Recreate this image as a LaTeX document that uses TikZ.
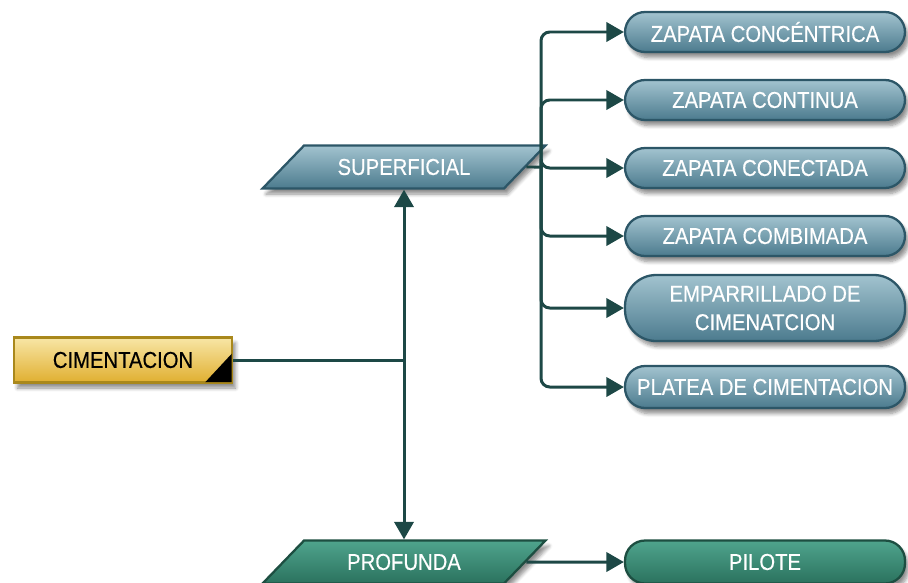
\documentclass[tikz,border=0pt]{standalone}
\usepackage{fontspec}
\setmainfont{Liberation Sans}[FakeStretch=0.88,FakeBold=0.4]
\usetikzlibrary{shapes.geometric,shadows.blur,arrows.meta}
\definecolor{linkline}{HTML}{1D4846}
\definecolor{blueTop}{HTML}{A2C3CF}
\definecolor{blueBot}{HTML}{4C7B8E}
\definecolor{blueEdge}{HTML}{2C5667}
\definecolor{greenTop}{HTML}{4FA48D}
\definecolor{greenBot}{HTML}{2B725E}
\definecolor{greenEdge}{HTML}{1D4E41}
\definecolor{goldTop}{HTML}{F8E6A6}
\definecolor{goldBot}{HTML}{E0AF30}
\definecolor{goldEdge}{HTML}{A9881C}
\begin{document}
\begin{tikzpicture}[x=0.02cm, y=-0.02cm,
  every node/.style={font=\fontsize{13.1}{16.2}\selectfont},
  shade/.style={blur shadow={shadow xshift=0.07cm, shadow yshift=-0.11cm, shadow blur steps=6, shadow opacity=45}},
  bluebox/.style={draw=blueEdge, line width=1.3pt, top color=blueTop, bottom color=blueBot, text=white, shade,
    rounded corners=0.4cm, minimum width=5.6cm, minimum height=0.8cm, inner xsep=0pt, align=center},
  slanted/.style={trapezium, trapezium left angle=34, trapezium right angle=146, trapezium stretches body,
    line width=1.3pt, text=white, shade, minimum width=5.66cm, minimum height=0.86cm, inner xsep=0pt},
  link/.style={draw=linkline, line width=1.7pt},
  arr/.style={link, -{Triangle[length=10pt,width=11pt]}}]
\useasboundingbox (0,0) rectangle (908,582);

% left start box
\node[draw=goldEdge, line width=1.4pt, top color=goldTop, bottom color=goldBot, shade,
  minimum width=4.36cm, minimum height=0.9cm, inner sep=0pt] (cim) at (123,360) {CIMENTACION};
\fill[black] ([shift={(-28,-1.5)}]cim.south east) -- ([shift={(-1.5,-1.5)}]cim.south east)
  -- ([shift={(-1.5,-30)}]cim.south east) -- cycle;

% two main types
\node[slanted, draw=blueEdge, top color=blueTop, bottom color=blueBot] (sup) at (404,167) {SUPERFICIAL};
\node[slanted, draw=greenEdge, top color=greenTop, bottom color=greenBot] (prof) at (404,562) {PROFUNDA};

% shallow foundations
\node[bluebox] (conc) at (765,32) {ZAPATA CONCÉNTRICA};
\node[bluebox] (cont) at (765,100) {ZAPATA CONTINUA};
\node[bluebox] (conec) at (765,168) {ZAPATA CONECTADA};
\node[bluebox] (comb) at (765,236) {ZAPATA COMBIMADA};
\node[bluebox, minimum height=1.32cm, rounded corners=0.62cm] (emp) at (765,308) {EMPARRILLADO DE\\CIMENATCION};
\node[bluebox, minimum height=0.84cm] (plat) at (765,387) {PLATEA DE CIMENTACION};

% deep foundation
\node[bluebox, draw=greenEdge, top color=greenTop, bottom color=greenBot, minimum height=0.86cm] (pil) at (765,562) {PILOTE};

\coordinate (junc) at (404,360);
\coordinate (bus) at (541,167);

\draw[link] (cim.east) -- (junc);
\draw[arr] (junc) -- (junc |- sup.south);
\draw[arr] (junc) -- (junc |- prof.north);
\draw[link] (sup.east) -- (bus);
\foreach \t in {conc,cont,conec,comb,emp,plat}
  \draw[arr, rounded corners=5pt] (bus) |- (\t.west);
\draw[arr] (prof.east) -- (pil.west);
\end{tikzpicture}
\end{document}
